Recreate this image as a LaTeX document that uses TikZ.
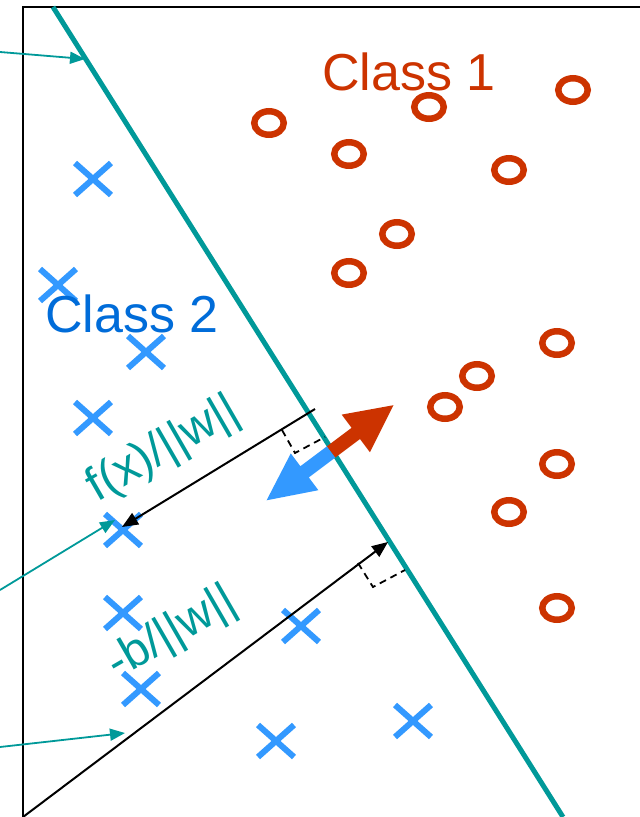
\documentclass[tikz,border=0pt]{standalone}
\usepackage{fontspec}
\setmainfont{Liberation Sans}
\usepackage{tikz}
\usetikzlibrary{arrows.meta, shapes.geometric, shapes.misc, calc}
\usepackage{xcolor}
\definecolor{hyper}{HTML}{009999}
\definecolor{classone}{HTML}{CC3300}
\definecolor{classtwo}{HTML}{006CD9}
\definecolor{crosscol}{HTML}{3399FF}

\begin{document}
\begin{tikzpicture}[
    x=1pt, y=-1pt,
    omark/.style={
        ellipse, draw=classone, line width=6.5pt,
        minimum width=29.5pt, minimum height=23.5pt, inner sep=0pt
    },
    xmark/.style={
        cross out, draw=crosscol, line width=6pt,
        minimum width=30pt, minimum height=26pt, inner sep=0pt
    },
    classlbl/.style={anchor=base, font=\fontsize{52}{60}\selectfont, inner sep=0pt},
    distlbl/.style={text=hyper, font=\fontsize{48}{56}\selectfont, inner sep=0pt},
    frame/.style={line width=2pt, black},
    plane/.style={line width=5pt, hyper},
    pointer/.style={-{Triangle[length=15pt,width=12pt]}, line width=1.8pt, hyper},
    dist/.style={-{Triangle[length=16pt,width=13pt]}, line width=2pt, black},
    rightangle/.style={line width=1.8pt, black, dash pattern=on 7pt off 5pt},
]
\useasboundingbox (0,0) rectangle (640,817);

% ── Frame and hyperplane ──────
\coordinate (topleft) at (23,7);
\coordinate (topright) at (640,7);
\coordinate (origin) at (23,817);
\coordinate (hptop) at (53,7);
\coordinate (hpbot) at (563,817);
\draw[frame] (topright) -- (topleft) -- (origin);
\draw[plane] (hptop) -- (hpbot);

% ── Class 1 points ──────
\foreach \px/\py [count=\i] in {269/123, 349/154, 429/107, 573/90, 509/170,
    397/234, 349/273, 557/343, 477/376, 445/407, 557/464, 509/512, 557/608}
    \node[omark] (o\i) at (\px,\py) {};

% ── Class 2 points ──────
\foreach \px/\py [count=\i] in {93/179, 58/285, 146/352, 93/418, 123/530,
    123/613, 301/626, 141/689, 276/741, 413/721}
    \node[xmark] (x\i) at (\px,\py) {};

\node[classlbl, text=classone] (cls1) at (409,90) {Class 1};
\node[classlbl, text=classtwo] (cls2) at (132,332) {Class 2};

% ── Normal direction (double arrow) ──────
\coordinate (mid) at (331,452);
\begin{scope}[shift={(mid)}, rotate=36.87]
    \fill[classone] (0,-7) -- (31,-7) -- (31,-23.5) -- (78,0)
        -- (31,23.5) -- (31,7) -- (0,7) -- cycle;
    \fill[crosscol] (0,-7) -- (-33,-7) -- (-33,-23) -- (-80.5,0)
        -- (-33,23) -- (-33,7) -- (0,7) -- cycle;
\end{scope}

% ── Distances ──────
\coordinate (fxstart) at (315,409);
\coordinate (fxend) at (122,527);
\coordinate (bfoot) at (388,542);
\draw[dist] (fxstart) -- (fxend);
\draw[dist] (origin) -- (bfoot);

\coordinate (ra1a) at (282,430);
\coordinate (ra1c) at (295,453);
\coordinate (ra1b) at (325,437);
\draw[rightangle] (ra1a) -- (ra1c) -- (ra1b);
\coordinate (ra2a) at (358,563);
\coordinate (ra2c) at (373,587);
\coordinate (ra2b) at (405,570);
\draw[rightangle] (ra2a) -- (ra2c) -- (ra2b);

\node[distlbl, rotate=30] (fxlbl) at (164,450) {f(x)/||w||};
\node[distlbl, rotate=30] (blbl) at (172,634) {-b/||w||};

% ── Pointers from outside ──────
\coordinate (p1) at (0,52);
\coordinate (p1end) at (85,59);
\coordinate (p2) at (0,590);
\coordinate (p2end) at (115,520);
\coordinate (p3) at (0,747);
\coordinate (p3end) at (125,733);
\draw[pointer] (p1) -- (p1end);
\draw[pointer] (p2) -- (p2end);
\draw[pointer] (p3) -- (p3end);

\end{tikzpicture}
\end{document}
